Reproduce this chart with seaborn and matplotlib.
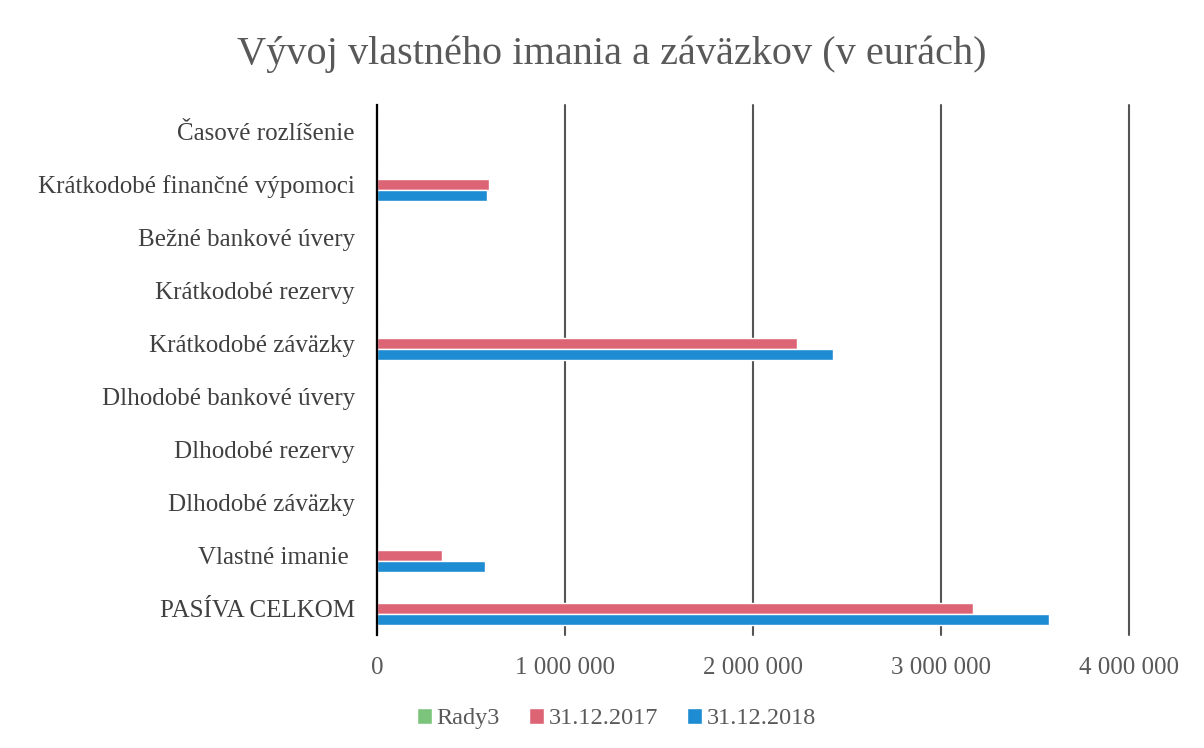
import matplotlib
matplotlib.use("Agg")
import matplotlib.pyplot as plt
import seaborn as sns
import pandas as pd
from matplotlib.ticker import FuncFormatter

categories = [
    "Časové rozlíšenie",
    "Krátkodobé finančné výpomoci",
    "Bežné bankové úvery",
    "Krátkodobé rezervy",
    "Krátkodobé záväzky",
    "Dlhodobé bankové úvery",
    "Dlhodobé rezervy",
    "Dlhodobé záväzky",
    "Vlastné imanie ",
    "PASÍVA CELKOM",
]
series_names = ["Rady3", "31.12.2017", "31.12.2018"]
rady3 = [0, 0, 0, 0, 0, 0, 0, 0, 0, 0]
v2017 = [0, 596000, 0, 0, 2234000, 0, 0, 0, 344000, 3172000]
v2018 = [0, 585000, 0, 0, 2424000, 0, 0, 0, 574000, 3577000]
xticks = [0, 1000000, 2000000, 3000000, 4000000]
colors = ["#7CC47C", "#DD6475", "#1E8CD2"]

rows = []
for name, vals in zip(series_names, [rady3, v2017, v2018]):
    for c, v in zip(categories, vals):
        rows.append({"cat": c, "series": name, "value": v})
df = pd.DataFrame(rows)

sns.set_style("white")
plt.rcParams["font.family"] = ["Liberation Serif", "DejaVu Serif"]

fig = plt.figure(figsize=(12.04, 7.48), dpi=100)
ax = fig.add_axes([377 / 1204, 1 - 635 / 748, (1129 - 377) / 1204, (635 - 105) / 748])

sns.barplot(data=df, y="cat", x="value", hue="series", order=categories,
            hue_order=series_names, palette=colors, orient="h", width=0.62,
            saturation=1, ax=ax, legend=True)

ax.set_xlim(0, 4000000)
ax.set_ylim(9.5, -0.5)
ax.set_xticks(xticks)
ax.xaxis.set_major_formatter(FuncFormatter(lambda v, p: f"{int(v):,}".replace(",", " ")))
ax.set_xlabel("")
ax.set_ylabel("")
for s in ["top", "right", "bottom"]:
    ax.spines[s].set_visible(False)
ax.spines["left"].set_color("black")
ax.spines["left"].set_linewidth(1.6)
ax.set_axisbelow(True)
ax.grid(axis="x", color="#555555", linewidth=1.5)
ax.grid(axis="y", visible=False)
for gl in ax.get_xgridlines():
    gl.set_clip_on(False)
ax.tick_params(axis="x", length=0, pad=16, labelsize=18, labelcolor="#595959")
ax.tick_params(axis="y", length=0, pad=16, labelsize=18, labelcolor="#404040")

fig.suptitle("Vývoj vlastného imania a záväzkov (v eurách)", x=0.508, y=0.952,
             fontsize=29, color="#595959")

handles, labels = ax.get_legend_handles_labels()
ax.get_legend().remove()
fig.legend(handles, labels, loc="center", bbox_to_anchor=(0.512, 0.039), ncol=3,
           frameon=False, fontsize=17.5, handlelength=0.6, handleheight=0.6,
           handletextpad=0.2, columnspacing=1.2, labelcolor="#595959")

fig.savefig("out.png", dpi=100)
